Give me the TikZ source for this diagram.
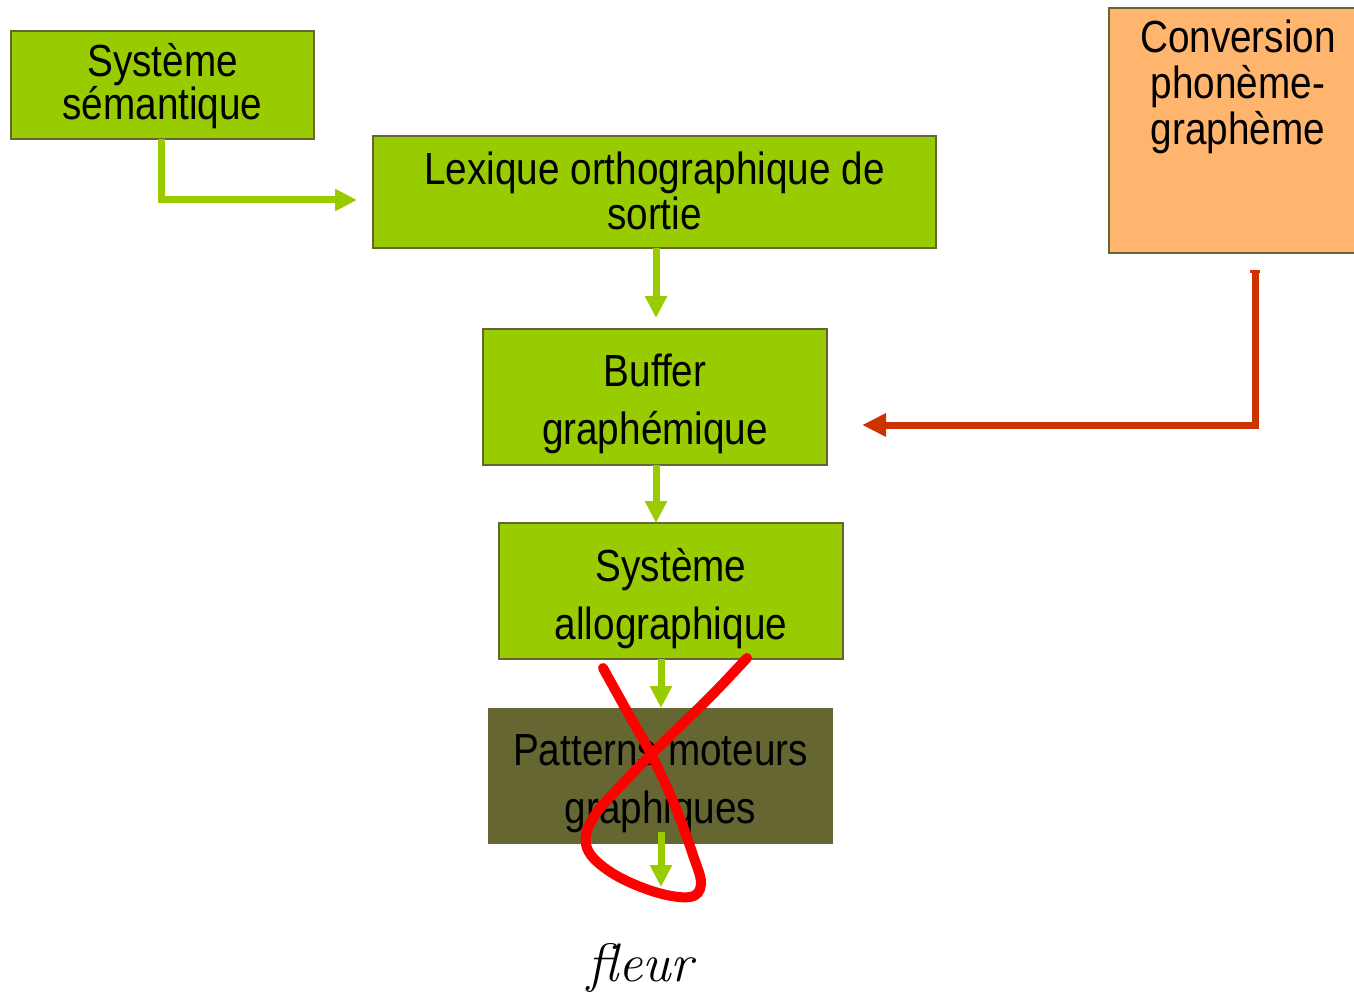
\documentclass[tikz,border=0pt]{standalone}
\usepackage{fontspec}
\newfontfamily\narrowsans{Liberation Sans}[FakeStretch=0.86]
\usetikzlibrary{arrows.meta,calc}
\definecolor{leaf}{HTML}{99CC00}
\definecolor{olive}{HTML}{666633}
\definecolor{peach}{HTML}{FFB56E}
\definecolor{rust}{HTML}{CC3300}
\definecolor{crossred}{HTML}{FF0000}
\tikzset{
  box/.style={draw=olive, line width=2.5pt, fill=leaf, rectangle, inner sep=0pt, align=center},
  boxtext/.style={align=center, inner sep=0pt, font=\narrowsans\fontsize{45}{58}\selectfont},
  greenarrow/.style={draw=leaf, line width=7pt, -{Triangle[length=22pt,width=21pt]}},
  redarrow/.style={draw=rust, line width=7pt, -{Triangle[length=24pt,width=22pt]}},
}
\begin{document}
\begin{tikzpicture}[x=1pt,y=-1pt]
\clip (0,0) rectangle (1354,1003);
\fill[white] (0,0) rectangle (1354,1003);

\node[box, minimum width=303pt, minimum height=108pt,
  label={[boxtext, font=\narrowsans\fontsize{45}{42}\selectfont, yshift=-1pt]center:Système\\sémantique}] (sem) at (162.5,85) {};
\node[box, minimum width=563pt, minimum height=112pt,
  label={[boxtext, font=\narrowsans\fontsize{45}{45}\selectfont, yshift=1pt]center:Lexique orthographique de\\sortie}] (lex) at (654.5,192) {};
\node[box, fill=peach, minimum width=251pt, minimum height=245pt] (conv) at (1234.5,130.5) {};
\node[anchor=north, align=center, font=\narrowsans\fontsize{45}{46}\selectfont, inner sep=0pt] (convtext) at (1238,20)
  {Conversion\\phonème-\\graphème};
\node[box, minimum width=344pt, minimum height=136pt,
  label={[boxtext, yshift=-7pt]center:Buffer\\graphémique}] (buf) at (655,397) {};
\node[box, minimum width=344pt, minimum height=136pt,
  label={[boxtext, yshift=-8pt]center:Système\\allographique}] (allo) at (671,591) {};
\node[box, draw=none, fill=olive, minimum width=345pt, minimum height=136pt,
  label={[boxtext, yshift=-8pt]center:Patterns moteurs\\graphiques}] (pat) at (660.5,776) {};
\node[font=\itshape\fontsize{54}{58}\selectfont, inner sep=0pt] (fleur) at (640,968) {fleur};

\coordinate (patout) at (661,887);
\coordinate (semin) at (357,200);
\coordinate (bufin) at (862,425);
\coordinate (convout) at (1255,270);

\draw[greenarrow] (161,139) |- (semin);
\draw[greenarrow] (656,248) -- (656,318);
\draw[greenarrow] (656,465) -- (656,523);
\draw[greenarrow] (661,659) -- (661,708);
\draw[greenarrow] (661,832) -- (patout);
\draw[redarrow] (convout) |- (bufin);
\draw[draw=rust, line width=3pt] (1250,271) -- (1260,271);

\draw[crossred, line width=10pt, line cap=round, line join=round]
  plot[smooth, tension=0.6] coordinates {(603,668) (628,713) (652,756) (675,806) (693,855) (701,884) (690,897) (655,892) (612,873) (587,848) (593,818) (628,778) (670,736) (712,695) (747,658)};
\end{tikzpicture}
\end{document}
